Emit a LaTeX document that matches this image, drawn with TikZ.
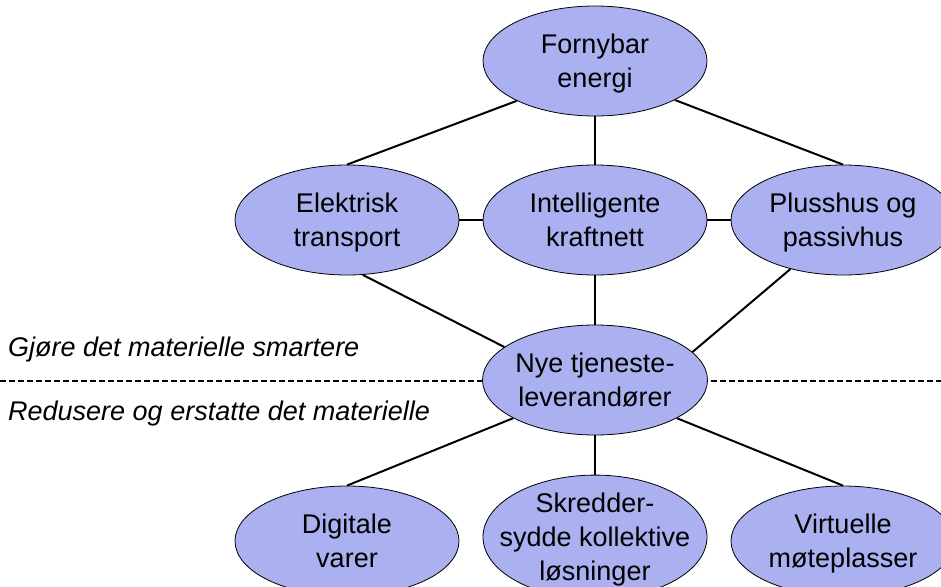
\documentclass[tikz,border=0pt]{standalone}
\usepackage{fontspec}
\setmainfont{Liberation Sans}
\usetikzlibrary{shapes.geometric}
\definecolor{ovalblue}{RGB}{170,176,240}

\begin{document}
\begin{tikzpicture}[x=1pt,y=-1pt,
  oval/.style={ellipse,draw=black,line width=0.8pt,fill=ovalblue,minimum width=224pt,minimum height=110pt,inner sep=0pt,align=center,font=\fontsize{27}{34}\selectfont,text depth=-7.5pt},
  link/.style={line width=2pt},
  side/.style={anchor=west,inner sep=0pt,font=\fontsize{27}{33}\selectfont\itshape}]
  \useasboundingbox (0,0) rectangle (941,586); \clip (0,0) rectangle (941,586);
  \draw[dash pattern=on 6pt off 3pt,line width=1.2pt] (0,381) -- (941,381);
  \node[oval] (forn) at (595,61) {Fornybar\\energi};
  \node[oval] (elek) at (347,220) {Elektrisk\\transport}; \node[oval] (intl) at (595,220) {Intelligente\\kraftnett}; \node[oval] (plus) at (843,220) {Plusshus og\\passivhus};
  \node[oval] (nye) at (595,380) {Nye tjeneste-\\leverandører};
  \node[oval] (dig) at (347,541) {Digitale\\varer}; \node[oval,inner xsep=-25pt] (skr) at (595,537) {Skredder-\\sydde kollektive\\løsninger}; \node[oval] (virt) at (843,541) {Virtuelle\\møteplasser};
  \node[side] (smart) at (8,350) {Gjøre det materielle smartere}; \node[side] (redu) at (8,414) {Redusere og erstatte det materielle};
  \draw[link] (forn.207) -- (elek.north); \draw[link] (forn.south) -- (intl.north); \draw[link] (forn.-26) -- (plus.north);
  \draw[link] (elek.east) -- (intl.west); \draw[link] (intl.east) -- (plus.west);
  \draw[link] (elek.-74) -- (nye.160); \draw[link] (intl.south) -- (nye.north); \draw[link] (plus.-137) -- (nye.16);
  \draw[link] (nye.205) -- (dig.north); \draw[link] (nye.south) -- (skr.north); \draw[link] (nye.-25) -- (virt.north);
\end{tikzpicture}
\end{document}
